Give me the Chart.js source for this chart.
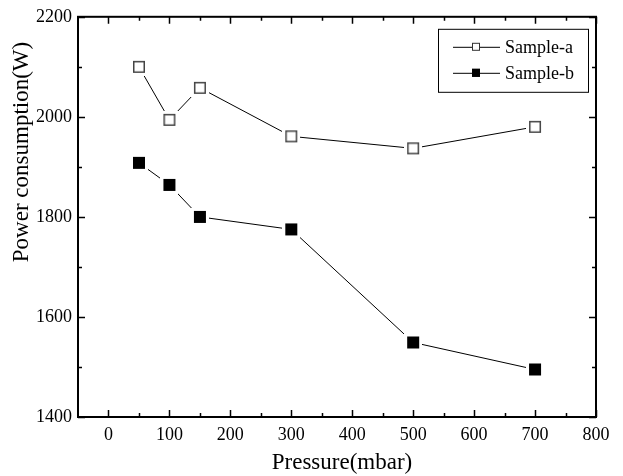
<!DOCTYPE html>
<html>
<head>
<meta charset="utf-8">
<script src="https://cdn.jsdelivr.net/npm/chart.js@4/dist/chart.umd.min.js"></script>
<style>
  html, body { margin: 0; padding: 0; background: #fff; }
  canvas { display: block; }
</style>
</head>
<body>
<canvas id="c" width="623" height="476"></canvas>
<script>
// Measured power consumption versus chamber pressure
const pressure = [50, 100, 150, 300, 500, 700];
const sampleA = [2100, 1994, 2058, 1961, 1937, 1980];
const sampleB = [1908, 1864, 1800, 1775, 1549, 1495];

// Axis ticks
const xTicks = [0, 100, 200, 300, 400, 500, 600, 700, 800];
const xMinorTicks = [50, 150, 250, 350, 450, 550, 650, 750];
const yTicks = [1400, 1600, 1800, 2000, 2200];
const yMinorTicks = [1500, 1700, 1900, 2100];

const xTitle = 'Pressure(mbar)';
const yTitle = 'Power consumption(W)';

const FONT = "'Liberation Serif', 'Times New Roman', serif";

// Square marker with a white margin so the connecting line stops short of it
function makeMarker(fill, stroke, size, gap) {
  const c = document.createElement('canvas');
  const full = size + 2 * gap;
  c.width = full; c.height = full;
  const g = c.getContext('2d');
  g.fillStyle = '#fff';
  g.fillRect(0, 0, full, full);
  g.fillStyle = fill;
  g.fillRect(gap, gap, size, size);
  if (stroke) {
    g.strokeStyle = stroke;
    g.lineWidth = 1.5;
    g.strokeRect(gap + 0.75, gap + 0.75, size - 1.5, size - 1.5);
  }
  return c;
}
const hollowMarker = makeMarker('#fff', '#444', 12, 3);
const solidMarker = makeMarker('#000', null, 12, 3);

// Inward major/minor ticks on all four sides plus the plot frame
const frameTicks = {
  id: 'frameTicks',
  afterDraw(chart) {
    const { ctx, chartArea: { left, right, top, bottom }, scales: { x, y } } = chart;
    ctx.save();
    ctx.strokeStyle = '#000';
    ctx.lineWidth = 1.5;
    const tick = (vals, len, isX) => {
      vals.forEach(v => {
        ctx.beginPath();
        if (isX) {
          const px = Math.round(x.getPixelForValue(v)) + 0.5;
          ctx.moveTo(px, bottom); ctx.lineTo(px, bottom - len);
          ctx.moveTo(px, top); ctx.lineTo(px, top + len);
        } else {
          const py = Math.round(y.getPixelForValue(v)) + 0.5;
          ctx.moveTo(left, py); ctx.lineTo(left + len, py);
          ctx.moveTo(right, py); ctx.lineTo(right - len, py);
        }
        ctx.stroke();
      });
    };
    tick(xTicks, 7, true);
    tick(xMinorTicks, 4, true);
    tick(yTicks, 7, false);
    tick(yMinorTicks, 4, false);
    ctx.lineWidth = 2;
    ctx.strokeRect(left, top, right - left, bottom - top);
    ctx.restore();
  }
};

// Axis titles
const axisTitles = {
  id: 'axisTitles',
  afterDraw(chart) {
    const { ctx } = chart;
    ctx.save();
    ctx.fillStyle = '#000';
    ctx.font = '23px ' + FONT;
    ctx.textAlign = 'center';
    ctx.textBaseline = 'alphabetic';
    ctx.fillText(xTitle, 342, 469);
    ctx.translate(28, 152);
    ctx.rotate(-Math.PI / 2);
    ctx.fillText(yTitle, 0, 0);
    ctx.restore();
  }
};

// Boxed legend with a line segment through each marker
const boxLegend = {
  id: 'boxLegend',
  afterDraw(chart) {
    const { ctx, chartArea: { right, top } } = chart;
    const bx = right - 158, by = top + 12, bw = 150, bh = 63;
    ctx.save();
    ctx.strokeStyle = '#000';
    ctx.lineWidth = 1;
    ctx.strokeRect(bx + 0.5, by + 0.5, bw, bh);
    chart.data.datasets.forEach((ds, i) => {
      const cy = by + 18 + i * 26;
      ctx.beginPath();
      ctx.strokeStyle = '#000';
      ctx.lineWidth = 1;
      ctx.moveTo(bx + 15, cy + 0.5);
      ctx.lineTo(bx + 62, cy + 0.5);
      ctx.stroke();
      const s = 8;
      ctx.fillStyle = ds.legendFill;
      ctx.fillRect(bx + 38 - s / 2, cy - s / 2, s, s);
      ctx.strokeStyle = ds.legendStroke;
      ctx.strokeRect(bx + 38 - s / 2 + 0.5, cy - s / 2 + 0.5, s - 1, s - 1);
      ctx.fillStyle = '#000';
      ctx.font = '18px ' + FONT;
      ctx.textBaseline = 'middle';
      ctx.textAlign = 'left';
      ctx.fillText(ds.label, bx + 67, cy + 1);
    });
    ctx.restore();
  }
};

const toPoints = ys => pressure.map((p, i) => ({ x: p, y: ys[i] }));

new Chart(document.getElementById('c'), {
  type: 'line',
  data: {
    datasets: [
      {
        label: 'Sample-a',
        data: toPoints(sampleA),
        borderColor: '#000',
        borderWidth: 1,
        pointStyle: hollowMarker,
        pointRadius: 9,
        legendFill: '#fff',
        legendStroke: '#333',
        tension: 0
      },
      {
        label: 'Sample-b',
        data: toPoints(sampleB),
        borderColor: '#000',
        borderWidth: 1,
        pointStyle: solidMarker,
        pointRadius: 9,
        legendFill: '#000',
        legendStroke: '#000',
        tension: 0
      }
    ]
  },
  options: {
    responsive: false,
    animation: false,
    devicePixelRatio: 1,
    layout: { padding: { top: 15, right: 27, left: 0, bottom: 0 } },
    plugins: { legend: { display: false }, tooltip: { enabled: false } },
    scales: {
      x: {
        type: 'linear',
        min: -50,
        max: 800,
        afterBuildTicks: s => { s.ticks = xTicks.map(v => ({ value: v })); },
        afterFit: s => { s.height = 59; },
        grid: { display: false, drawTicks: false },
        border: { display: false },
        ticks: { padding: 7, color: '#000', font: { family: FONT, size: 18 }, maxRotation: 0, callback: v => String(v) },
        title: { display: false }
      },
      y: {
        type: 'linear',
        min: 1400,
        max: 2200,
        afterBuildTicks: s => { s.ticks = yTicks.map(v => ({ value: v })); },
        afterFit: s => { s.width = 78; },
        grid: { display: false, drawTicks: false },
        border: { display: false },
        ticks: { padding: 6, color: '#000', font: { family: FONT, size: 18 }, callback: v => String(v) },
        title: { display: false }
      }
    }
  },
  plugins: [frameTicks, axisTitles, boxLegend]
});
</script>
</body>
</html>
